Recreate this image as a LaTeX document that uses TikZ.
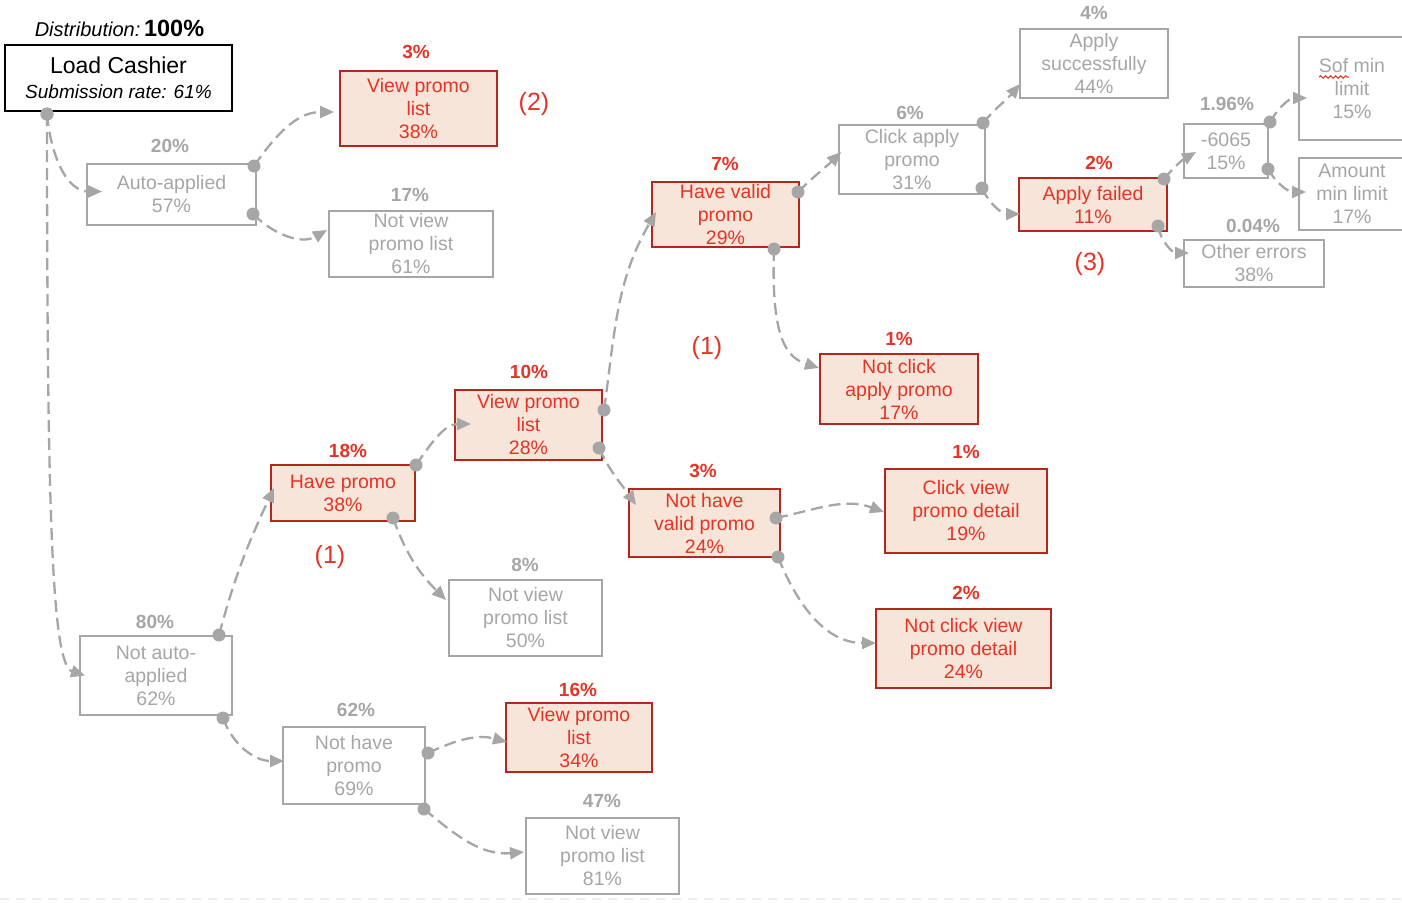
\documentclass[tikz,border=0pt]{standalone}
\usepackage{fontspec}
\setmainfont{Liberation Sans}
\usetikzlibrary{arrows.meta,calc,decorations.pathmorphing}
\definecolor{gr}{HTML}{A6A6A6}
\definecolor{rtext}{HTML}{E63325}
\definecolor{rborder}{HTML}{B5271C}
\definecolor{rfill}{HTML}{F8E5D9}
\newcommand\mkbox[6]{\node[#1, minimum width=#4, minimum height=#5] (#2) at (#3) {#6};}
\newcommand\cn[3]{\draw[conn] #1 #2 #3; \fill[gr] #1 circle (6.5pt);}
\begin{document}
\begin{tikzpicture}[x=1pt,y=1pt,
  box/.style={line width=2pt, inner sep=0pt, align=center, font=\fontsize{19.5}{23}\selectfont},
  gbox/.style={box, draw=gr, text=gr},
  rbox/.style={box, draw=rborder, fill=rfill, text=rtext},
  plab/.style={font=\fontsize{19}{22}\selectfont\bfseries, inner sep=0pt, text height=13.7pt, text depth=0pt},
  gp/.style={plab, text=gr},
  rp/.style={plab, text=rtext},
  num/.style={text=rtext, font=\fontsize{25}{28}\selectfont, inner sep=0pt},
  conn/.style={draw=gr, line width=2.3pt, dash pattern=on 12pt off 6pt, -{Triangle[length=14pt,width=12pt]}}
]
\useasboundingbox (0,0) rectangle (1402,-902);
\fill[white] (0,0) rectangle (1402,-902);
\draw[black!7, line width=1.5pt, dash pattern=on 9pt off 7pt] (0,-899) -- (1402,-899);

% title
\node[inner sep=0pt] (dist) at (119.5,-28) {{\fontsize{20}{24}\selectfont\itshape Distribution:} {\fontsize{23.5}{24}\selectfont\bfseries 100\%}};
\node[box, draw=black, text=black, font=\fontsize{19}{25}\selectfont, minimum width=227, minimum height=66] (lc) at (118.5,-78)
  {{\fontsize{23}{25}\selectfont Load Cashier}\\\textit{Submission rate: 61\%}};

% boxes
\mkbox{gbox}{aa}{171.5,-194.5}{169}{61}{Auto-applied\\57\%}
\mkbox{rbox}{vp1}{418.5,-108.5}{157}{75}{View promo\\list\\38\%}
\mkbox{gbox}{nv1}{411,-244}{164}{66}{Not view\\promo list\\61\%}
\mkbox{rbox}{hv}{725.5,-214.5}{147}{65}{Have valid\\promo\\29\%}
\mkbox{gbox}{ca}{912,-159.5}{146}{69}{Click apply\\promo\\31\%}
\mkbox{gbox}{as}{1094,-63.5}{148}{69}{Apply\\successfully\\44\%}
\mkbox{rbox}{af}{1093,-204.5}{148}{53}{Apply failed\\11\%}
\mkbox{gbox}{m6}{1226,-151}{84}{54}{-6065\\15\%}
\mkbox{gbox}{sm}{1352,-88.5}{106}{103}{Sof min\\limit\\15\%}
\mkbox{gbox}{am}{1352,-194}{106}{72}{Amount\\min limit\\17\%}
\mkbox{gbox}{oe}{1254,-263.5}{140}{47}{Other errors\\38\%}
\mkbox{rbox}{nca}{899,-389}{158}{70}{Not click\\apply promo\\17\%}
\mkbox{rbox}{vp2}{528.5,-425}{147}{70}{View promo\\list\\28\%}
\mkbox{rbox}{hp}{343,-493}{144}{56}{Have promo\\38\%}
\mkbox{rbox}{nvp}{704.5,-523}{151}{68}{Not have\\valid promo\\24\%}
\mkbox{rbox}{cvd}{966,-511}{162}{84}{Click view\\promo detail\\19\%}
\mkbox{rbox}{ncvd}{963.5,-648.5}{175}{79}{Not click view\\promo detail\\24\%}
\mkbox{gbox}{nv2}{525.5,-618}{153}{76}{Not view\\promo list\\50\%}
\mkbox{gbox}{naa}{156,-675.5}{152}{79}{Not auto-\\applied\\62\%}
\mkbox{gbox}{nhp}{354,-765.5}{142}{77}{Not have\\promo\\69\%}
\mkbox{rbox}{vp3}{579,-737.5}{146}{69}{View promo\\list\\34\%}
\mkbox{gbox}{nv3}{602.5,-856}{153}{76}{Not view\\promo list\\81\%}

% spell-check underline
\draw[rtext, line width=1pt, decorate, decoration={snake, amplitude=1.3pt, segment length=5pt}] ($(sm.west)+(21,11.5)$) -- ++(30,0);

% percentage labels
\node[gp] (aap) at (170,-146) {20\%};
\node[rp] (vp1p) at (416,-52) {3\%};
\node[gp] (nv1p) at (410,-195) {17\%};
\node[rp] (hvp) at (725,-164) {7\%};
\node[gp] (cap) at (910,-113) {6\%};
\node[gp] (asp) at (1094,-13) {4\%};
\node[rp] (afp) at (1099,-163) {2\%};
\node[gp] (m6p) at (1227,-104) {1.96\%};
\node[gp] (oep) at (1253,-226) {0.04\%};
\node[rp] (ncap) at (899,-339) {1\%};
\node[rp] (vp2p) at (529,-372) {10\%};
\node[rp] (hpp) at (348,-451) {18\%};
\node[rp] (nvpp) at (703,-471) {3\%};
\node[rp] (cvdp) at (966,-452) {1\%};
\node[rp] (ncvdp) at (966,-593) {2\%};
\node[gp] (nv2p) at (525,-565) {8\%};
\node[gp] (naap) at (155,-622) {80\%};
\node[gp] (nhpp) at (356,-710) {62\%};
\node[rp] (vp3p) at (578,-690) {16\%};
\node[gp] (nv3p) at (602,-801) {47\%};

% group markers
\node[num] (g2) at (534,-104) {(2)};
\node[num] (g1a) at (707,-348) {(1)};
\node[num] (g1b) at (330,-557) {(1)};
\node[num] (g3) at (1090,-264) {(3)};

% connectors
\cn{($(lc.south west)+(43,-2)$)}{to[out=-85,in=180]}{($(aa.west)+(16,3)$)}
\cn{($(lc.south west)+(43,-2)$)}{.. controls (47,-520) and (52,-665) ..}{($(naa.west)+(6,0)$)}
\cn{($(aa.north east)+(-3,-3)$)}{to[out=55,in=180]}{($(vp1.west)+(-5,-3.5)$)}
\cn{($(aa.east)+(-4,-19.5)$)}{to[out=-45,in=210]}{($(nv1.west)+(-1,14)$)}
\cn{($(naa.north east)+(-14,0)$)}{to[out=75,in=245]}{($(hp.west)+(4,5)$)}
\cn{($(naa.south east)+(-10,-2)$)}{to[out=-70,in=180]}{($(nhp.west)+(2,4.5)$)}
\cn{($(hp.north east)+(0,-1)$)}{to[out=55,in=180]}{($(vp2.west)+(17,1)$)}
\cn{($(hp.south east)+(-23,4)$)}{to[out=-70,in=135]}{($(nv2.west)+(-2,18)$)}
\cn{($(vp2.east)+(1,15)$)}{to[out=82,in=240]}{($(hv.west)+(5,2.5)$)}
\cn{($(vp2.east)+(-4,-23)$)}{to[out=-65,in=125]}{($(nvp.west)+(8,18)$)}
\cn{($(hv.east)+(-2,22.5)$)}{to[out=45,in=225]}{($(ca.west)+(3,7.5)$)}
\cn{($(hv.south east)+(-26,-1)$)}{.. controls (771,-335) and (785,-357) ..}{($(nca.west)+(0,21)$)}
\cn{($(ca.north east)+(-3,1)$)}{to[out=50,in=230]}{($(as.west)+(1,-20.5)$)}
\cn{($(ca.south east)+(-4,7)$)}{to[out=-65,in=180]}{($(af.west)+(2,-9.5)$)}
\cn{($(af.north east)+(-4,-2)$)}{to[out=50,in=210]}{($(m6.west)+(13,-1)$)}
\cn{($(af.south east)+(-10,6)$)}{to[out=-80,in=180]}{($(oe.west)+(6,10.5)$)}
\cn{($(m6.north east)+(1,1)$)}{to[out=60,in=180]}{($(sm.west)+(9,-9.5)$)}
\cn{($(m6.south east)+(-1,10)$)}{to[out=-60,in=180]}{($(am.west)+(8,2)$)}
\cn{($(nvp.east)+(-5,5)$)}{to[out=12,in=160]}{($(cvd.west)+(0,-1)$)}
\cn{($(nvp.south east)+(-3,1)$)}{to[out=-68,in=180]}{($(ncvd.west)+(1,5.5)$)}
\cn{($(nhp.east)+(2,12.5)$)}{to[out=25,in=165]}{($(vp3.west)+(2,-4.5)$)}
\cn{($(nhp.south east)+(-2,-4)$)}{to[out=-40,in=185]}{($(nv3.west)+(-1,4)$)}
\end{tikzpicture}
\end{document}
